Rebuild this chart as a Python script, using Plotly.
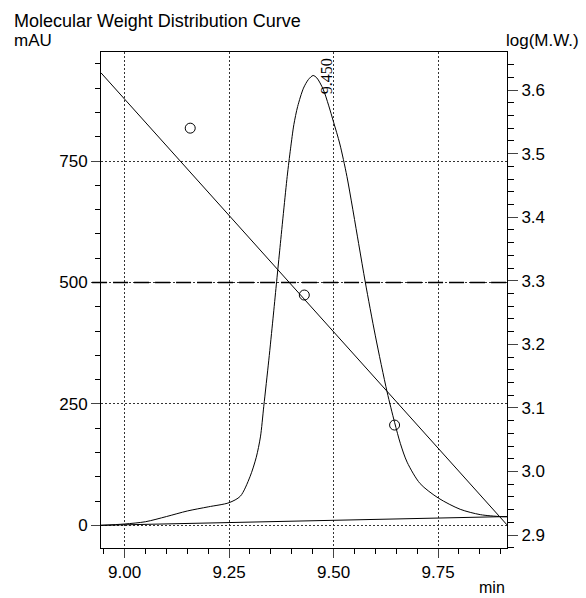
import plotly.graph_objects as go

# Chromatogram signal (retention time in min, absorbance in mAU)
sig_time = [8.9435, 9.00, 9.05, 9.10, 9.15, 9.20, 9.25, 9.277, 9.30, 9.315, 9.325,
            9.333, 9.345, 9.355, 9.363, 9.371, 9.389, 9.397, 9.405, 9.414, 9.428,
            9.440, 9.451, 9.460, 9.475, 9.488, 9.500, 9.515, 9.532, 9.560, 9.576,
            9.600, 9.628, 9.646, 9.660, 9.676, 9.707, 9.751, 9.803, 9.851, 9.899, 9.915]
sig_mau = [0, 2.7, 7.4, 18, 29.5, 38, 46.6, 60, 100, 140, 182,
           245, 340, 425, 495, 565, 718, 775, 825, 862, 900,
           918, 926, 921, 898, 865, 830, 785, 718, 580, 500,
           390, 275, 212, 168, 130, 86, 56, 33, 22, 18, 17.5]

# Integration baseline under the peak
base_time = [8.9435, 9.915]
base_mau = [0, 18]

# Calibration standards and fitted calibration line (log of molecular weight)
std_time = [9.157, 9.430, 9.646]
std_logmw = [3.540, 3.2775, 3.073]
fit_time = [8.9435, 9.915]
fit_logmw = [3.627, 2.916]

# Peak label
peak_time = 9.450
peak_label = "9.450"
peak_height = 924

# Axis ticks
x_ticks = [9.00, 9.25, 9.50, 9.75]
x_tick_text = ["9.00", "9.25", "9.50", "9.75"]
y_ticks = [0, 250, 500, 750]
y_tick_text = ["0", "250", "500", "750"]
y2_ticks = [2.9, 3.0, 3.1, 3.2, 3.3, 3.4, 3.5, 3.6]
y2_tick_text = ["2.9", "3.0", "3.1", "3.2", "3.3", "3.4", "3.5", "3.6"]
ref_level = 500

FONT = "Liberation Sans, Arial, sans-serif"
INK = "black"

fig = go.Figure()

fig.add_trace(go.Scatter(x=base_time, y=base_mau, mode="lines",
                         line=dict(color=INK, width=1), showlegend=False))
fig.add_trace(go.Scatter(x=sig_time, y=sig_mau, mode="lines",
                         line=dict(color=INK, width=1, shape="spline", smoothing=0.8),
                         showlegend=False))
fig.add_trace(go.Scatter(x=fit_time, y=fit_logmw, mode="lines", yaxis="y2",
                         line=dict(color=INK, width=1), showlegend=False))
fig.add_trace(go.Scatter(x=std_time, y=std_logmw, mode="markers", yaxis="y2",
                         marker=dict(symbol="circle-open", size=10,
                                     color=INK, line=dict(width=1, color=INK)),
                         showlegend=False))

# Long-dashed reference level
fig.add_shape(type="line", xref="paper", yref="y", x0=-0.022, x1=1, y0=ref_level, y1=ref_level,
              line=dict(color=INK, width=1.5, dash="15px,6px"), layer="above")

tick_font = dict(family=FONT, size=17, color=INK)

fig.update_layout(
    width=586, height=598,
    margin=dict(l=101, r=79, t=52, b=50),
    paper_bgcolor="white", plot_bgcolor="white",
    font=dict(family=FONT, color=INK),
    xaxis=dict(range=[8.9435, 9.915], tickvals=x_ticks, ticktext=x_tick_text,
               tickfont=tick_font, ticks="outside", ticklen=9, tickcolor="#444",
               showline=True, linecolor=INK, linewidth=1, mirror=True,
               showgrid=True, gridcolor="#333", griddash="2px,2px", gridwidth=1,
               zeroline=False,
               minor=dict(tick0=9.0, dtick=0.05, ticks="outside", ticklen=5,
                          tickcolor=INK, showgrid=False)),
    yaxis=dict(range=[-46.7, 974.4], tickvals=y_ticks, ticktext=y_tick_text,
               tickfont=tick_font, ticks="outside", ticklen=9, tickcolor="#444",
               showline=True, linecolor=INK, linewidth=1,
               showgrid=True, gridcolor="#333", griddash="2px,2px", gridwidth=1,
               zeroline=False,
               minor=dict(tick0=0, dtick=50, ticks="outside", ticklen=5,
                          tickcolor=INK, showgrid=False)),
    yaxis2=dict(range=[2.8796, 3.6598], overlaying="y", side="right",
                tickvals=y2_ticks, ticktext=y2_tick_text,
                tickfont=tick_font, ticks="outside", ticklen=10, tickcolor="#444",
                showline=True, linecolor=INK, linewidth=1,
                showgrid=False, zeroline=False,
                minor=dict(tick0=2.9, dtick=0.02, ticks="outside", ticklen=6,
                           tickcolor=INK, showgrid=False)),
)

fig.add_annotation(text="Molecular Weight Distribution Curve", xref="paper", yref="paper",
                   x=-0.2185, y=1.0625, xanchor="left", yanchor="middle",
                   showarrow=False, font=dict(family=FONT, size=18, color=INK))
label_font = dict(family=FONT, size=17, color=INK)
fig.add_annotation(text="mAU", xref="paper", yref="paper",
                   x=-0.2185, y=1.024, xanchor="left", yanchor="middle",
                   showarrow=False, font=label_font)
fig.add_annotation(text="log(M.W.)", xref="paper", yref="paper",
                   x=0.993, y=1.024, xanchor="left", yanchor="middle",
                   showarrow=False, font=label_font)
fig.add_annotation(text="min", xref="paper", yref="paper",
                   x=1.0, y=-0.0795, xanchor="right", yanchor="middle",
                   showarrow=False, font=dict(family=FONT, size=16, color=INK))
fig.add_annotation(text=peak_label, x=peak_time, y=peak_height, xref="x", yref="y",
                   textangle=-90, xshift=14, showarrow=False,
                   font=dict(family="Liberation Serif, Times New Roman, serif", size=16, color=INK))

fig.write_html("out.html")
